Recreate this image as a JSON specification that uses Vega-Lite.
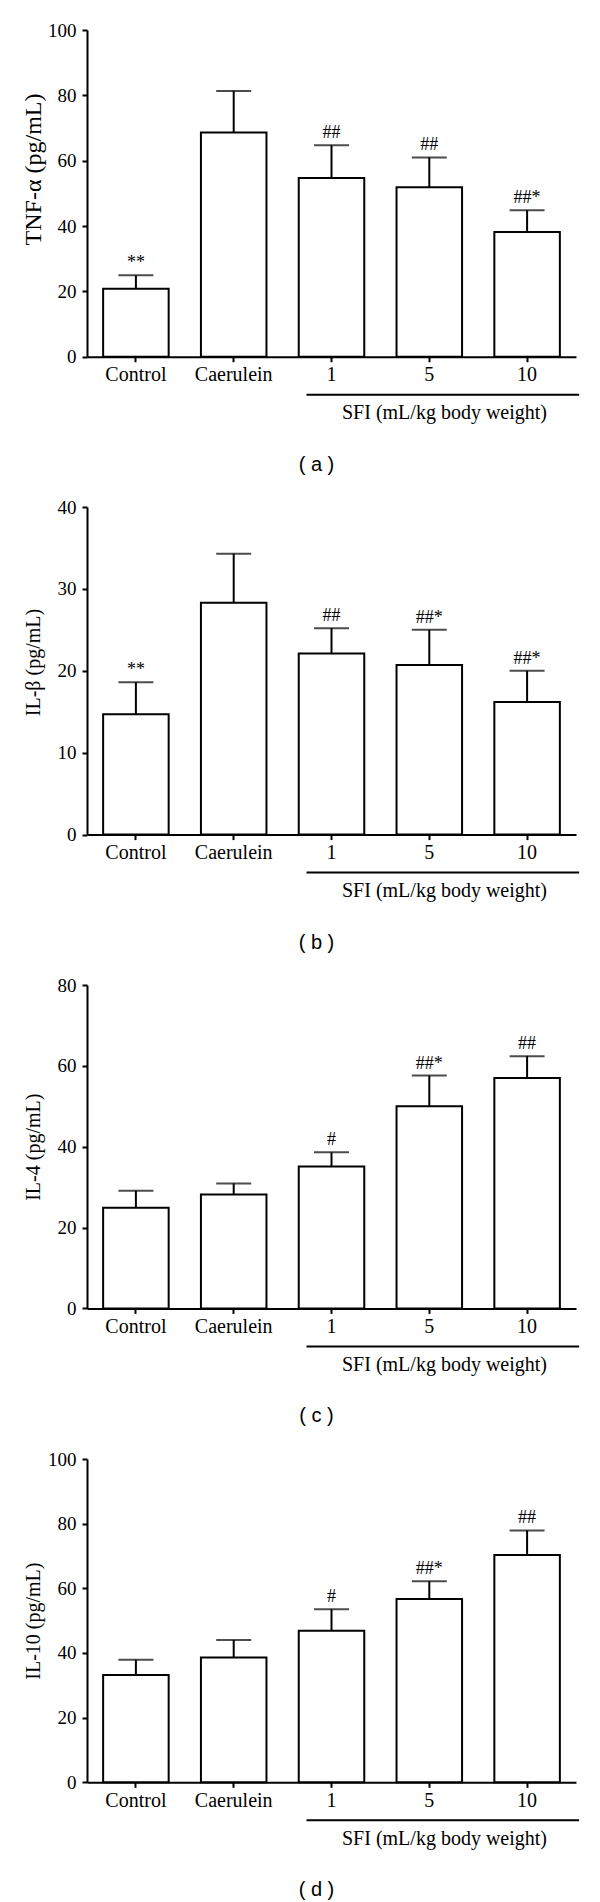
{
  "$schema": "https://vega.github.io/schema/vega-lite/v6.json",
  "background": "white",
  "padding": {"left": 20, "top": 21, "right": 10, "bottom": 10},
  "datasets": {
    "cyt": [
      {"panel": "a", "group": "Control", "mean": 20.8, "upper": 24.9, "sig": "**"},
      {"panel": "a", "group": "Caerulein", "mean": 68.6, "upper": 81.3, "sig": ""},
      {"panel": "a", "group": "1", "mean": 54.7, "upper": 64.7, "sig": "##"},
      {"panel": "a", "group": "5", "mean": 51.9, "upper": 61.0, "sig": "##"},
      {"panel": "a", "group": "10", "mean": 38.2, "upper": 44.8, "sig": "##*"},
      {"panel": "b", "group": "Control", "mean": 14.7, "upper": 18.6, "sig": "**"},
      {"panel": "b", "group": "Caerulein", "mean": 28.3, "upper": 34.3, "sig": ""},
      {"panel": "b", "group": "1", "mean": 22.1, "upper": 25.2, "sig": "##"},
      {"panel": "b", "group": "5", "mean": 20.7, "upper": 25.0, "sig": "##*"},
      {"panel": "b", "group": "10", "mean": 16.2, "upper": 20.0, "sig": "##*"},
      {"panel": "c", "group": "Control", "mean": 24.9, "upper": 29.1, "sig": ""},
      {"panel": "c", "group": "Caerulein", "mean": 28.2, "upper": 30.9, "sig": ""},
      {"panel": "c", "group": "1", "mean": 35.1, "upper": 38.6, "sig": "#"},
      {"panel": "c", "group": "5", "mean": 50.0, "upper": 57.6, "sig": "##*"},
      {"panel": "c", "group": "10", "mean": 57.0, "upper": 62.4, "sig": "##"},
      {"panel": "d", "group": "Control", "mean": 33.2, "upper": 37.9, "sig": ""},
      {"panel": "d", "group": "Caerulein", "mean": 38.6, "upper": 44.0, "sig": ""},
      {"panel": "d", "group": "1", "mean": 46.9, "upper": 53.5, "sig": "#"},
      {"panel": "d", "group": "5", "mean": 56.7, "upper": 62.2, "sig": "##*"},
      {"panel": "d", "group": "10", "mean": 70.3, "upper": 77.9, "sig": "##"}
    ],
    "bracket": [{"from": "1", "to": "10"}]
  },
  "bounds": "flush",
  "spacing": 150,
  "vconcat": [
    {
      "width": 489, "height": 326.7,
      "title": {"text": "( a )", "orient": "bottom", "frame": "group", "anchor": "middle", "dx": -15, "offset": 32},
      "layer": [
        {
          "data": {"name": "cyt"},
          "transform": [{"filter": "datum.panel === 'a'"}],
          "encoding": {
            "x": {"field": "group", "type": "nominal", "scale": {"domain": ["Control", "Caerulein", "1", "5", "10"], "paddingInner": 0.33, "paddingOuter": 0.165},
                  "axis": {"title": "SFI (mL/kg body weight)", "titleX": 357, "titleY": 62}},
            "y": {"field": "mean", "type": "quantitative", "scale": {"domain": [0, 100]},
                  "axis": {"values": [0, 20, 40, 60, 80, 100], "title": "TNF-α (pg/mL)", "titleY": 139, "titleFontSize": 24}}
          },
          "layer": [
            {"mark": {"type": "bar", "fill": "white", "stroke": "black", "strokeWidth": 2}},
            {"mark": {"type": "rule", "color": "black", "strokeWidth": 2}, "encoding": {"y2": {"field": "upper"}}},
            {"mark": {"type": "tick", "color": "black", "size": 35, "thickness": 2}, "encoding": {"y": {"field": "upper", "type": "quantitative"}}},
            {"mark": {"type": "text", "baseline": "bottom", "dy": -3, "font": "Liberation Serif", "fontSize": 18, "color": "black"}, "encoding": {"y": {"field": "upper", "type": "quantitative"}, "text": {"field": "sig"}}}
          ]
        },
        {
          "data": {"name": "bracket"},
          "mark": {"type": "rule", "color": "black", "strokeWidth": 2, "xOffset": -25, "x2Offset": 52, "yOffset": 38},
          "encoding": {"x": {"field": "from", "type": "nominal"}, "x2": {"field": "to"}, "y": {"datum": 0}}
        }
      ]
    },
    {
      "width": 489, "height": 327.6,
      "title": {"text": "( b )", "orient": "bottom", "frame": "group", "anchor": "middle", "dx": -15, "offset": 32},
      "layer": [
        {
          "data": {"name": "cyt"},
          "transform": [{"filter": "datum.panel === 'b'"}],
          "encoding": {
            "x": {"field": "group", "type": "nominal", "scale": {"domain": ["Control", "Caerulein", "1", "5", "10"], "paddingInner": 0.33, "paddingOuter": 0.165},
                  "axis": {"title": "SFI (mL/kg body weight)", "titleX": 357, "titleY": 62}},
            "y": {"field": "mean", "type": "quantitative", "scale": {"domain": [0, 40]},
                  "axis": {"values": [0, 10, 20, 30, 40], "title": "IL-β (pg/mL)", "titleY": 155}}
          },
          "layer": [
            {"mark": {"type": "bar", "fill": "white", "stroke": "black", "strokeWidth": 2}},
            {"mark": {"type": "rule", "color": "black", "strokeWidth": 2}, "encoding": {"y2": {"field": "upper"}}},
            {"mark": {"type": "tick", "color": "black", "size": 35, "thickness": 2}, "encoding": {"y": {"field": "upper", "type": "quantitative"}}},
            {"mark": {"type": "text", "baseline": "bottom", "dy": -3, "font": "Liberation Serif", "fontSize": 18, "color": "black"}, "encoding": {"y": {"field": "upper", "type": "quantitative"}, "text": {"field": "sig"}}}
          ]
        },
        {
          "data": {"name": "bracket"},
          "mark": {"type": "rule", "color": "black", "strokeWidth": 2, "xOffset": -25, "x2Offset": 52, "yOffset": 38},
          "encoding": {"x": {"field": "from", "type": "nominal"}, "x2": {"field": "to"}, "y": {"datum": 0}}
        }
      ]
    },
    {
      "width": 489, "height": 323.4,
      "title": {"text": "( c )", "orient": "bottom", "frame": "group", "anchor": "middle", "dx": -15, "offset": 32},
      "layer": [
        {
          "data": {"name": "cyt"},
          "transform": [{"filter": "datum.panel === 'c'"}],
          "encoding": {
            "x": {"field": "group", "type": "nominal", "scale": {"domain": ["Control", "Caerulein", "1", "5", "10"], "paddingInner": 0.33, "paddingOuter": 0.165},
                  "axis": {"title": "SFI (mL/kg body weight)", "titleX": 357, "titleY": 62}},
            "y": {"field": "mean", "type": "quantitative", "scale": {"domain": [0, 80]},
                  "axis": {"values": [0, 20, 40, 60, 80], "title": "IL-4 (pg/mL)"}}
          },
          "layer": [
            {"mark": {"type": "bar", "fill": "white", "stroke": "black", "strokeWidth": 2}},
            {"mark": {"type": "rule", "color": "black", "strokeWidth": 2}, "encoding": {"y2": {"field": "upper"}}},
            {"mark": {"type": "tick", "color": "black", "size": 35, "thickness": 2}, "encoding": {"y": {"field": "upper", "type": "quantitative"}}},
            {"mark": {"type": "text", "baseline": "bottom", "dy": -3, "font": "Liberation Serif", "fontSize": 18, "color": "black"}, "encoding": {"y": {"field": "upper", "type": "quantitative"}, "text": {"field": "sig"}}}
          ]
        },
        {
          "data": {"name": "bracket"},
          "mark": {"type": "rule", "color": "black", "strokeWidth": 2, "xOffset": -25, "x2Offset": 52, "yOffset": 38},
          "encoding": {"x": {"field": "from", "type": "nominal"}, "x2": {"field": "to"}, "y": {"datum": 0}}
        }
      ]
    },
    {
      "width": 489, "height": 323.3,
      "title": {"text": "( d )", "orient": "bottom", "frame": "group", "anchor": "middle", "dx": -15, "offset": 32},
      "layer": [
        {
          "data": {"name": "cyt"},
          "transform": [{"filter": "datum.panel === 'd'"}],
          "encoding": {
            "x": {"field": "group", "type": "nominal", "scale": {"domain": ["Control", "Caerulein", "1", "5", "10"], "paddingInner": 0.33, "paddingOuter": 0.165},
                  "axis": {"title": "SFI (mL/kg body weight)", "titleX": 357, "titleY": 62}},
            "y": {"field": "mean", "type": "quantitative", "scale": {"domain": [0, 100]},
                  "axis": {"values": [0, 20, 40, 60, 80, 100], "title": "IL-10 (pg/mL)"}}
          },
          "layer": [
            {"mark": {"type": "bar", "fill": "white", "stroke": "black", "strokeWidth": 2}},
            {"mark": {"type": "rule", "color": "black", "strokeWidth": 2}, "encoding": {"y2": {"field": "upper"}}},
            {"mark": {"type": "tick", "color": "black", "size": 35, "thickness": 2}, "encoding": {"y": {"field": "upper", "type": "quantitative"}}},
            {"mark": {"type": "text", "baseline": "bottom", "dy": -3, "font": "Liberation Serif", "fontSize": 18, "color": "black"}, "encoding": {"y": {"field": "upper", "type": "quantitative"}, "text": {"field": "sig"}}}
          ]
        },
        {
          "data": {"name": "bracket"},
          "mark": {"type": "rule", "color": "black", "strokeWidth": 2, "xOffset": -25, "x2Offset": 52, "yOffset": 38},
          "encoding": {"x": {"field": "from", "type": "nominal"}, "x2": {"field": "to"}, "y": {"datum": 0}}
        }
      ]
    }
  ],
  "config": {
    "view": {"stroke": null},
    "title": {"font": "Liberation Sans", "fontSize": 20, "fontWeight": "normal", "color": "black", "baseline": "top"},
    "axis": {
      "grid": false,
      "domainColor": "black", "domainWidth": 2,
      "tickColor": "black", "tickWidth": 2, "tickSize": 5,
      "labelColor": "black", "labelFont": "Liberation Serif",
      "titleColor": "black", "titleFont": "Liberation Serif", "titleFontWeight": "normal", "titleFontSize": 20
    },
    "axisX": {"labelAngle": 0, "labelFontSize": 20, "labelPadding": 3, "titleBaseline": "alphabetic", "titleAnchor": null, "titleAlign": "center"},
    "axisY": {"labelFontSize": 19, "labelPadding": 6, "titleX": -54, "titleBaseline": "middle"}
  }
}
